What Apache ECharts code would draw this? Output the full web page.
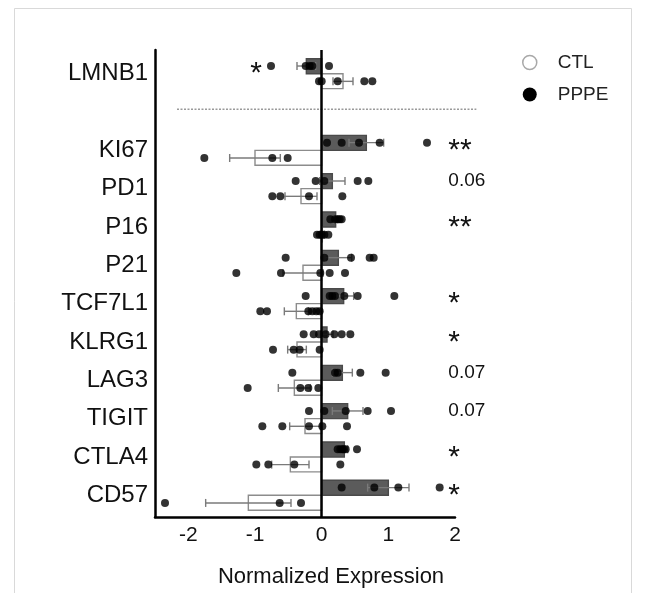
<!DOCTYPE html>
<html>
<head>
<meta charset="utf-8">
<script src="https://cdn.jsdelivr.net/npm/echarts@6/dist/echarts.min.js"></script>
<style>html,body{margin:0;padding:0;background:#fff}#c{width:655px;height:593px}</style>
</head>
<body>
<div id="c"></div>
<script>
// ---- data ----
const categories = ['LMNB1', '', 'KI67', 'PD1', 'P16', 'P21', 'TCF7L1', 'KLRG1', 'LAG3', 'TIGIT', 'CTLA4', 'CD57'];
const xTicks = [-2, -1, 0, 1, 2];

const pppeMean = [-0.23, null, 0.67, 0.16, 0.21, 0.25, 0.33, 0.08, 0.31, 0.39, 0.34, 1.00];
const pppeSem  = [0.14, null, 0.26, 0.19, 0.03, 0.20, 0.15, 0.09, 0.15, 0.23, 0.05, 0.31];
const ctlMean  = [0.32, null, -1.00, -0.31, 0.01, -0.28, -0.38, -0.37, -0.41, -0.25, -0.47, -1.10];
const ctlSem   = [0.15, null, 0.38, 0.24, 0.03, 0.30, 0.18, 0.14, 0.24, 0.23, 0.28, 0.64];

const pppeDots = [
  [-0.76, -0.24, -0.18, -0.14, 0.11],
  [],
  [0.08, 0.30, 0.56, 0.87, 1.58],
  [-0.39, -0.09, 0.04, 0.54, 0.70],
  [0.13, 0.20, 0.24, 0.27, 0.30],
  [-0.54, 0.04, 0.44, 0.72, 0.78],
  [-0.24, 0.12, 0.16, 0.20, 0.34, 0.54, 1.09],
  [-0.27, -0.12, -0.04, 0.06, 0.19, 0.30, 0.43],
  [-0.44, 0.20, 0.24, 0.58, 0.96],
  [-0.19, 0.04, 0.36, 0.69, 1.04],
  [0.24, 0.28, 0.31, 0.33, 0.36, 0.53],
  [0.30, 0.79, 1.15, 1.77]
];
const ctlDots = [
  [-0.04, 0.00, 0.24, 0.64, 0.76],
  [],
  [-1.76, -0.74, -0.51],
  [-0.74, -0.62, -0.19, 0.31],
  [-0.07, -0.03, 0.00, 0.04, 0.10],
  [-1.28, -0.61, -0.02, 0.12, 0.35],
  [-0.92, -0.82, -0.20, -0.14, -0.08, -0.03],
  [-0.73, -0.42, -0.33, -0.03],
  [-1.11, -0.32, -0.20, -0.05],
  [-0.89, -0.59, -0.19, 0.01, 0.38],
  [-0.98, -0.80, -0.41, 0.28],
  [-2.35, -0.63, -0.31]
];
const sigLabels = ['*', '', '**', '0.06', '**', '', '*', '*', '0.07', '0.07', '*', '*'];

// ---- layout constants ----
const BAR = 0.39;   // bar thickness in category units
const ROW = 0.2;    // offset of each group's row from the category centre
const FONT = 'Liberation Sans, Arial, Helvetica, sans-serif';

function barSeries(name, means, sems, sign, fill, stroke) {
  const data = [];
  means.forEach((m, i) => { if (m !== null) data.push([m, i, sems[i]]); });
  return {
    name: name,
    type: 'custom',
    z: 2,
    encode: { x: 0, y: 1 },
    data: data,
    renderItem: function (params, api) {
      const m = api.value(0), i = api.value(1), s = api.value(2);
      const a = api.coord([0, i]);
      const b = api.coord([m, i + sign * BAR]);
      const rowY = i + sign * ROW;
      const e0 = api.coord([m - s, rowY]);
      const e1 = api.coord([m + s, rowY]);
      const cap = 4;
      const ls = { stroke: '#7a7a7a', lineWidth: 1.4 };
      return {
        type: 'group',
        children: [
          { type: 'rect', shape: { x: Math.min(a[0], b[0]), y: Math.min(a[1], b[1]), width: Math.abs(b[0] - a[0]), height: Math.abs(b[1] - a[1]) },
            style: { fill: fill, stroke: stroke, lineWidth: 1.4 } },
          { type: 'line', shape: { x1: e0[0], y1: e0[1], x2: e1[0], y2: e1[1] }, style: ls },
          { type: 'line', shape: { x1: e0[0], y1: e0[1] - cap, x2: e0[0], y2: e0[1] + cap }, style: ls },
          { type: 'line', shape: { x1: e1[0], y1: e1[1] - cap, x2: e1[0], y2: e1[1] + cap }, style: ls }
        ]
      };
    }
  };
}

function dotData(dots, sign) {
  const out = [];
  dots.forEach((arr, i) => arr.forEach(v => out.push([v, i + sign * ROW])));
  return out;
}

const sigData = [];
sigLabels.forEach((t, i) => { if (t) sigData.push([i === 0 ? -1.07 : 1.9, i - ROW, t]); });

const chart = echarts.init(document.getElementById('c'), null, { renderer: 'canvas' });
chart.setOption({
  backgroundColor: '#fff',
  animation: false,
  textStyle: { fontFamily: FONT },
  graphic: [{
    type: 'rect', silent: true, z: -10,
    shape: { x: 14.5, y: 8.5, width: 617, height: 640 },
    style: { fill: 'none', stroke: '#d9d9d9', lineWidth: 1 }
  }],
  grid: { left: 155, right: 200, top: 50, bottom: 70, containLabel: false },
  legend: {
    orient: 'vertical', left: 517, top: 48, itemWidth: 14, itemHeight: 14, itemGap: 13,
    textStyle: { fontSize: 19, color: '#222', fontFamily: FONT, padding: [0, 0, 0, 16] },
    data: [
      { name: 'CTL', icon: 'circle', itemStyle: { color: '#fff', borderColor: '#a8a8a8', borderWidth: 1.5 } },
      { name: 'PPPE', icon: 'circle', itemStyle: { color: '#000', borderColor: '#000', borderWidth: 0 } }
    ]
  },
  xAxis: {
    type: 'value', min: -2.5, max: 2,
    axisLine: { show: true, onZero: false, lineStyle: { color: '#000', width: 2.5 } },
    axisTick: { show: false },
    splitLine: { show: false },
    axisLabel: { customValues: xTicks, fontSize: 21, color: '#111', margin: 8, fontFamily: FONT },
    name: 'Normalized Expression', nameLocation: 'middle', nameGap: 49,
    nameTextStyle: { fontSize: 22, color: '#111', fontFamily: FONT, padding: [0, 0, 0, 52] }
  },
  yAxis: {
    type: 'value', inverse: true, min: -0.618, max: 11.567,
    axisLine: { show: true, onZero: false, lineStyle: { color: '#000', width: 2.5 } },
    axisTick: { show: false },
    splitLine: { show: false },
    axisLabel: {
      customValues: categories.map((c, i) => i).filter(i => categories[i] !== ''),
      formatter: v => categories[Math.round(v)],
      fontSize: 24, color: '#111', margin: 7, fontFamily: FONT
    }
  },
  series: [
    barSeries('PPPE', pppeMean, pppeSem, -1, '#5b5b5b', '#4a4a4a'),
    barSeries('CTL', ctlMean, ctlSem, 1, '#ffffff', '#8c8c8c'),
    {
      type: 'scatter', name: 'PPPE dots', data: dotData(pppeDots, -1), symbolSize: 8,
      itemStyle: { color: '#000' }, z: 5, silent: true
    },
    {
      type: 'scatter', name: 'CTL dots', data: dotData(ctlDots, 1), symbolSize: 8,
      itemStyle: { color: '#000' }, z: 5, silent: true,
      markLine: {
        silent: true, symbol: 'none', label: { show: false },
        lineStyle: { color: '#000', width: 2.5, type: 'solid' },
        data: [{ xAxis: 0 }]
      }
    },
    {
      type: 'custom', name: 'divider', silent: true, clip: false, z: 1,
      data: [[0, 0.93]],
      renderItem: function (params, api) {
        const y = api.value(1);
        const p0 = api.coord([-2.17, y]);
        const p1 = api.coord([2.32, y]);
        return { type: 'line', shape: { x1: p0[0], y1: p0[1], x2: p1[0], y2: p1[1] },
          style: { stroke: '#9a9a9a', lineWidth: 1.5, lineDash: [2, 1.5] } };
      }
    },
    {
      type: 'custom', name: 'significance', silent: true, clip: false, z: 6,
      data: sigData,
      renderItem: function (params, api) {
        const t = sigData[params.dataIndex][2];
        const p = api.coord([api.value(0), api.value(1)]);
        const isStar = t.indexOf('*') === 0;
        return {
          type: 'text',
          style: {
            text: t, x: p[0], y: p[1] + (isStar ? 8 : 0),
            fontSize: isStar ? 30 : 19, fontFamily: FONT, fill: '#111',
            align: 'left', verticalAlign: 'middle'
          }
        };
      }
    }
  ]
});
</script>
</body>
</html>
